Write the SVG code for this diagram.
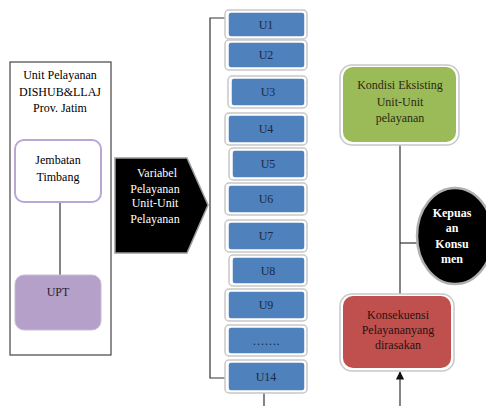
<svg xmlns="http://www.w3.org/2000/svg" width="486" height="406" viewBox="0 0 486 406">
<defs>
<style>
text{font-family:"Times New Roman","Liberation Serif","Tinos","Noto Serif","DejaVu Serif",serif;font-size:12px;text-anchor:middle;}
.ub{fill:#4f81bd;stroke:#ffffff;stroke-width:1.5;}
.uo{fill:#ffffff;stroke:#c8c8c8;stroke-width:1.5;}
.ut{fill:#1b2a44;font-size:12px;}
.ln{stroke:#333333;stroke-width:1.2;fill:none;}
.wt{fill:#ffffff;}
</style>
<marker id="ah" viewBox="0 0 10 10" refX="9" refY="5" markerWidth="7" markerHeight="7" orient="auto-start-reverse">
<path d="M0,0 L10,5 L0,10 z" fill="#111111"/>
</marker>
</defs>
<rect width="486" height="406" fill="#ffffff"/>

<g id="unit-box">
<rect x="10" y="62" width="101" height="293" fill="#ffffff" stroke="#444444" stroke-width="1.2"/>
<text x="60" y="79">Unit Pelayanan</text>
<text x="60" y="96">DISHUB&amp;LLAJ</text>
<text x="60" y="112">Prov. Jatim</text>
</g>

<g id="connectors">
<line class="ln" x1="60" y1="202" x2="60" y2="275"/>
<polyline class="ln" points="226,18 210,18 210,378 228,378"/>
<line class="ln" x1="264" y1="392" x2="264" y2="406"/>
<line class="ln" x1="400" y1="142" x2="400" y2="297"/>
<line class="ln" x1="400" y1="243" x2="418" y2="243"/>
<line class="ln" x1="400" y1="406" x2="400" y2="372" marker-end="url(#ah)"/>
</g>

<g id="jembatan">
<rect x="15" y="140" width="86" height="62" rx="9" fill="#ffffff" stroke="#b9a7d4" stroke-width="2"/>
<text x="58" y="164">Jembatan</text>
<text x="58" y="181">Timbang</text>
</g>

<g id="upt">
<rect x="15" y="275" width="86" height="55" rx="9" fill="#b4a0c8" stroke="#c9bcd9" stroke-width="1"/>
<text x="58" y="296" fill="#2b2233">UPT</text>
</g>

<g id="variabel">
<polygon points="115,158 187,158 208,205 187,253 115,253" fill="#000000" stroke="#9a9a9a" stroke-width="1.5"/>
<text class="wt" x="157" y="177">Variabel</text>
<text class="wt" x="155" y="193">Pelayanan</text>
<text class="wt" x="155" y="207">Unit-Unit</text>
<text class="wt" x="155" y="223">Pelayanan</text>
</g>

<g id="U1"><rect class="uo" x="225" y="10" width="82" height="29" rx="4"/><rect class="ub" x="228" y="12" width="77" height="25" rx="3"/><text class="ut" x="266" y="29">U1</text></g>
<g id="U2"><rect class="uo" x="225" y="40" width="82" height="30" rx="4"/><rect class="ub" x="228" y="42" width="77" height="26" rx="3"/><text class="ut" x="266" y="59">U2</text></g>
<g id="U3"><rect class="uo" x="228" y="76" width="79" height="32" rx="4"/><rect class="ub" x="231" y="78" width="74" height="28" rx="3"/><text class="ut" x="268" y="96">U3</text></g>
<g id="U4"><rect class="uo" x="225" y="113" width="82" height="32" rx="4"/><rect class="ub" x="228" y="115" width="77" height="28" rx="3"/><text class="ut" x="266" y="133">U4</text></g>
<g id="U5"><rect class="uo" x="229" y="148" width="78" height="32" rx="4"/><rect class="ub" x="232" y="150" width="73" height="28" rx="3"/><text class="ut" x="268" y="168">U5</text></g>
<g id="U6"><rect class="uo" x="225" y="183" width="82" height="32" rx="4"/><rect class="ub" x="228" y="185" width="77" height="28" rx="3"/><text class="ut" x="266" y="203">U6</text></g>
<g id="U7"><rect class="uo" x="225" y="220" width="82" height="32" rx="4"/><rect class="ub" x="228" y="222" width="77" height="28" rx="3"/><text class="ut" x="266" y="240">U7</text></g>
<g id="U8"><rect class="uo" x="229" y="255" width="78" height="31" rx="4"/><rect class="ub" x="232" y="257" width="73" height="27" rx="3"/><text class="ut" x="268" y="275">U8</text></g>
<g id="U9"><rect class="uo" x="225" y="289" width="82" height="32" rx="4"/><rect class="ub" x="228" y="291" width="77" height="28" rx="3"/><text class="ut" x="266" y="309">U9</text></g>
<g id="Udots"><rect class="uo" x="225" y="325" width="82" height="31" rx="4"/><rect class="ub" x="228" y="327" width="77" height="27" rx="3"/><text class="ut" x="266" y="345" font-size="9">…….</text></g>
<g id="U14"><rect class="uo" x="225" y="360" width="82" height="33" rx="4"/><rect class="ub" x="228" y="362" width="77" height="29" rx="3"/><text class="ut" x="266" y="381">U14</text></g>

<g id="kondisi">
<rect x="340" y="65" width="119" height="80" rx="12" fill="#ffffff" stroke="#c8c8c8" stroke-width="1.5"/>
<rect x="343" y="67" width="113" height="75" rx="10" fill="#9bbb59"/>
<text x="400" y="89" fill="#2a2a10">Kondisi Eksisting</text>
<text x="400" y="106" fill="#2a2a10">Unit-Unit</text>
<text x="400" y="122" fill="#2a2a10">pelayanan</text>
</g>

<g id="kepuasan">
<ellipse cx="455" cy="236" rx="38" ry="48" fill="#000000" stroke="#b0b0b0" stroke-width="2.5"/>
<text class="wt" x="452" y="217" font-weight="bold" font-size="11">Kepuas</text>
<text class="wt" x="452" y="232" font-weight="bold" font-size="11">an</text>
<text class="wt" x="452" y="248" font-weight="bold" font-size="11">Konsu</text>
<text class="wt" x="452" y="263" font-weight="bold" font-size="11">men</text>
</g>

<g id="konsekuensi">
<rect x="340" y="294" width="114" height="77" rx="12" fill="#ffffff" stroke="#c8c8c8" stroke-width="1.5"/>
<rect x="343" y="296" width="108" height="72" rx="10" fill="#c0504d"/>
<text x="398" y="319" fill="#2a1010">Konsekuensi</text>
<text x="398" y="334" fill="#2a1010">Pelayananyang</text>
<text x="398" y="349" fill="#2a1010">dirasakan</text>
</g>
</svg>
